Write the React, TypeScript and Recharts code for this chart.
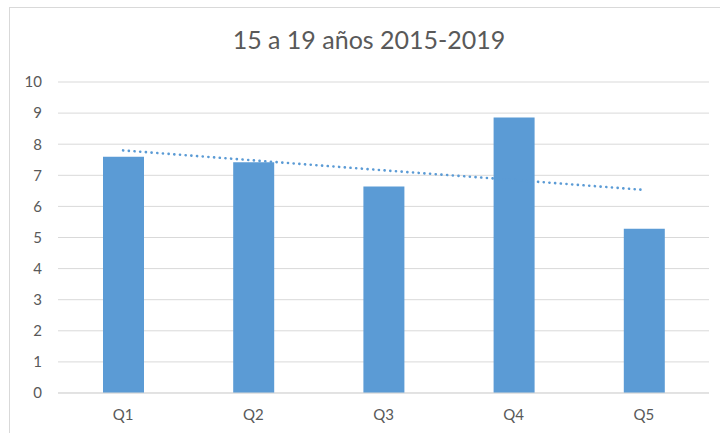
import React from 'react'
import { ComposedChart, CartesianGrid, XAxis, YAxis, Bar, Line } from 'recharts'

const categories = ['Q1', 'Q2', 'Q3', 'Q4', 'Q5']
const values = [7.6, 7.42, 6.64, 8.86, 5.28]
// linear trend
const trend = [7.8, 7.48, 7.16, 6.85, 6.53]
const yTicks = [0, 1, 2, 3, 4, 5, 6, 7, 8, 9, 10]

const data = categories.map((q, i) => ({ q, value: values[i], trend: trend[i] }))

const font = 'Lato, "Open Sans", sans-serif'

export default function App() {
  return (
    <div
      style={{
        position: 'fixed',
        left: 9,
        top: 7,
        width: 711,
        height: 426,
        borderLeft: '1px solid #d9d9d9',
        borderTop: '1px solid #d9d9d9',
        background: '#fff',
        overflow: 'hidden',
        fontFamily: font,
      }}
    >
      <div
        style={{
          position: 'absolute',
          left: 0,
          width: 718,
          top: 19,
          textAlign: 'center',
          fontSize: 25,
          lineHeight: 1,
          color: '#595959',
        }}
      >
        15 a 19 años 2015-2019
      </div>
      <ComposedChart
        width={710}
        height={425}
        data={data}
        margin={{ top: 74, right: 11, left: 0, bottom: 10 }}
      >
        <CartesianGrid vertical={false} stroke="#d9d9d9" strokeWidth={1} />
        <XAxis
          dataKey="q"
          height={30}
          axisLine={{ stroke: '#d9d9d9' }}
          tickLine={false}
          tickSize={0}
          tickMargin={16}
          tick={{ fill: '#595959', fontSize: 15, fontFamily: font }}
        />
        <YAxis
          width={48}
          domain={[0, 10]}
          ticks={yTicks}
          axisLine={false}
          tickLine={false}
          tickSize={0}
          tickMargin={16}
          tick={{ fill: '#595959', fontSize: 15, fontFamily: font }}
        />
        <Line
          dataKey="trend"
          type="linear"
          stroke="#5b9bd5"
          strokeWidth={2.6}
          strokeDasharray="0.1 5.6"
          strokeLinecap="round"
          dot={false}
          activeDot={false}
          isAnimationActive={false}
        />
        <Bar dataKey="value" fill="#5b9bd5" barSize={41} isAnimationActive={false} />
      </ComposedChart>
    </div>
  )
}
